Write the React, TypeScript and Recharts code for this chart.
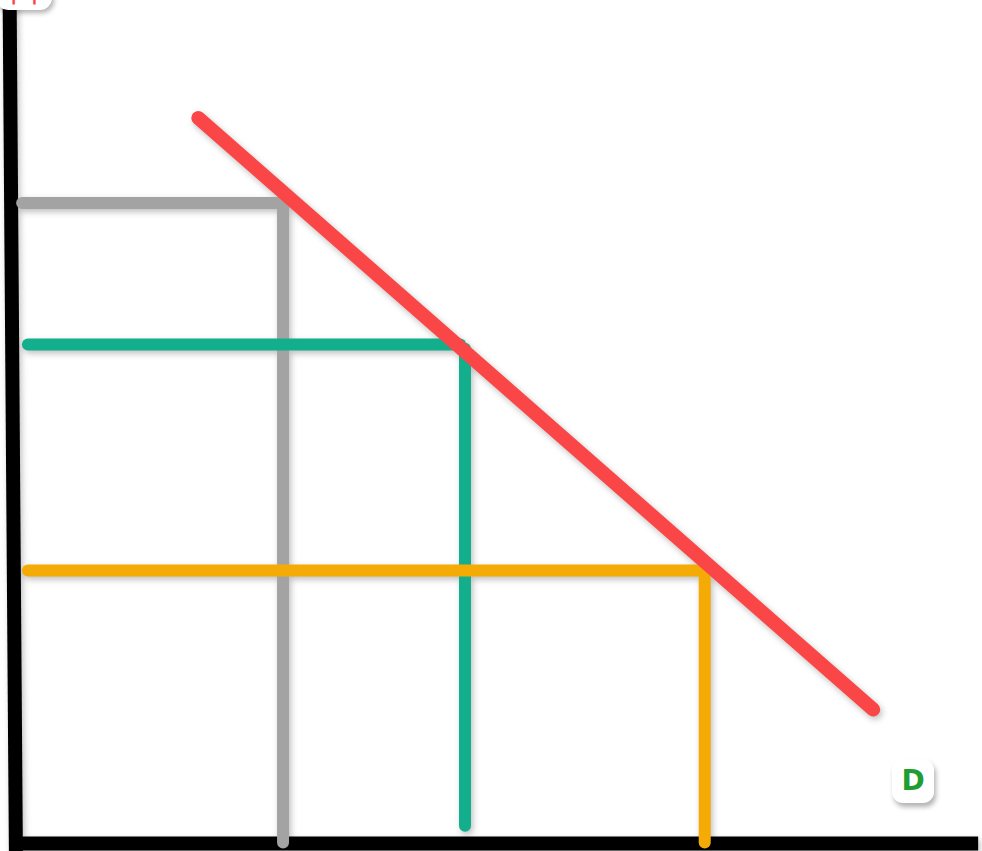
import { LineChart, Line, XAxis, YAxis } from "recharts";

// quantity (x) / price (y) points
const demandLine = [
  { x: 18.6, y: 86.0 },
  { x: 88.7, y: 15.8 },
];
const grayPrice = [
  { x: 0.3, y: 75.9 },
  { x: 27.5, y: 75.9 },
];
const grayQty = [
  { x: 27.4, y: 75.9 },
  { x: 27.4, y: 0 },
];
const tealPrice = [
  { x: 0.9, y: 59.1 },
  { x: 45.8, y: 59.1 },
];
const tealQty = [
  { x: 46.3, y: 58.6 },
  { x: 46.3, y: 2.0 },
];
const orangePrice = [
  { x: 0.9, y: 32.3 },
  { x: 70.6, y: 32.3 },
];
const orangeQty = [
  { x: 71.2, y: 32.3 },
  { x: 71.2, y: 0 },
];
const yAxisLine = [
  { x: -0.35, y: -1 },
  { x: -1.0, y: 100 },
];
const xAxisLine = [
  { x: -0.1, y: -0.1 },
  { x: 99.6, y: -0.1 },
];

const series = [
  { key: "yaxis", data: yAxisLine, color: "#000000", width: 14, cap: "butt" },
  { key: "xaxis", data: xAxisLine, color: "#000000", width: 14, cap: "butt" },
  { key: "grayQty", data: grayQty, color: "#a3a3a3", width: 12, cap: "round" },
  { key: "tealQty", data: tealQty, color: "#13ae8b", width: 12, cap: "round" },
  { key: "orangeQty", data: orangeQty, color: "#f5ab06", width: 12, cap: "round" },
  { key: "grayPrice", data: grayPrice, color: "#a3a3a3", width: 12, cap: "round" },
  { key: "tealPrice", data: tealPrice, color: "#13ae8b", width: 12, cap: "round" },
  { key: "orangePrice", data: orangePrice, color: "#f5ab06", width: 12, cap: "round" },
  { key: "demand", data: demandLine, color: "#fa4646", width: 14, cap: "round" },
];

export default function App() {
  return (
    <div
      style={{
        position: "absolute",
        top: 0,
        left: 0,
        width: 982,
        height: 851,
        overflow: "hidden",
        background: "#fff",
        fontFamily: "'Open Sans', sans-serif",
      }}
    >
      <div style={{ filter: "drop-shadow(2px 3px 3px rgba(0,0,0,0.25))" }}>
        <LineChart width={982} height={851} margin={{ top: 0, right: 0, bottom: 0, left: 0 }}>
          <XAxis type="number" dataKey="x" domain={[-2, 100]} hide />
          <YAxis type="number" dataKey="y" domain={[-1, 100]} hide />
          {series.map((s) => (
            <Line
              key={s.key}
              data={s.data}
              dataKey="y"
              stroke={s.color}
              strokeWidth={s.width}
              strokeLinecap={s.cap as any}
              dot={false}
              activeDot={false}
              isAnimationActive={false}
            />
          ))}
        </LineChart>
      </div>
      <div
        style={{
          position: "absolute",
          left: -4,
          top: -36,
          width: 56,
          height: 46,
          borderRadius: 12,
          background: "#fff",
          boxShadow: "2px 3px 5px rgba(0,0,0,0.3)",
          color: "#fa4646",
          fontWeight: 700,
          fontSize: 30,
          lineHeight: "52px",
          textAlign: "center",
          fontFamily: "'DejaVu Sans', sans-serif",
        }}
      >
        $$
      </div>
      <div
        style={{
          position: "absolute",
          left: 892,
          top: 759,
          width: 42,
          height: 44,
          borderRadius: 11,
          background: "#fff",
          boxShadow: "2px 4px 5px rgba(0,0,0,0.3)",
          color: "#1e9e32",
          fontWeight: 700,
          fontSize: 28,
          lineHeight: "44px",
          textAlign: "center",
          fontFamily: "'DejaVu Sans', sans-serif",
        }}
      >
        D
      </div>
    </div>
  );
}
